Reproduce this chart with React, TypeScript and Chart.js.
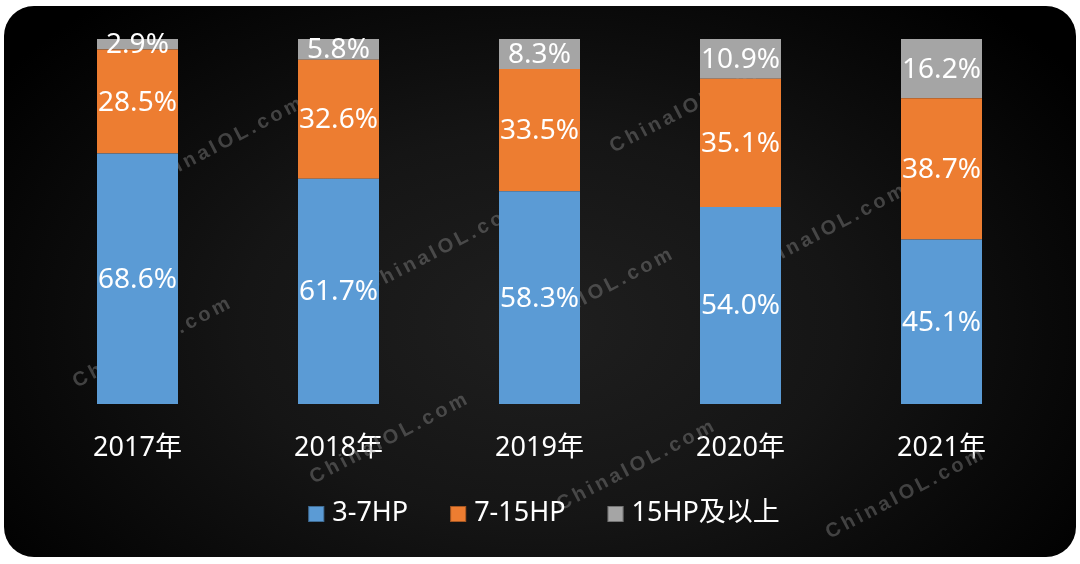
import { useEffect, useRef } from "react";
import { Chart, ChartConfiguration, Plugin, registerables } from "chart.js";

Chart.register(...registerables);

const years = ["2017年", "2018年", "2019年", "2020年", "2021年"];
const seriesNames = ["3-7HP", "7-15HP", "15HP及以上"];
const small = [68.6, 61.7, 58.3, 54.0, 45.1];
const medium = [28.5, 32.6, 33.5, 35.1, 38.7];
const large = [2.9, 5.8, 8.3, 10.9, 16.2];
const colors = ["#5b9bd5", "#ed7d31", "#a5a5a5"];

const FONT = '"Noto Sans", "Noto Sans CJK SC", sans-serif';

// faint site watermark, drawn under the bars
const watermarkSpots = [
  [225, 142], [690, 107], [153, 342], [445, 247], [595, 293],
  [828, 229], [390, 438], [637, 465], [906, 493],
];

const watermark: Plugin<"bar"> = {
  id: "watermark",
  beforeDatasetsDraw(chart) {
    const ctx = chart.ctx;
    ctx.save();
    ctx.font = "bold 20px 'Liberation Sans', Arial, sans-serif";
    (ctx as any).letterSpacing = "3.5px";
    ctx.fillStyle = "rgba(140,140,140,0.42)";
    ctx.textAlign = "center";
    ctx.textBaseline = "middle";
    watermarkSpots.forEach(([x, y]) => {
      ctx.save();
      ctx.translate(x, y);
      ctx.rotate((-27.5 * Math.PI) / 180);
      ctx.fillText("ChinaIOL.com", 0, 0);
      ctx.restore();
    });
    ctx.restore();
  },
};

const segmentLabels: Plugin<"bar"> = {
  id: "segmentLabels",
  afterDatasetsDraw(chart) {
    const ctx = chart.ctx;
    ctx.save();
    ctx.font = `28px ${FONT}`;
    ctx.fillStyle = "#ffffff";
    ctx.textAlign = "center";
    ctx.textBaseline = "middle";
    chart.data.datasets.forEach((ds, i) => {
      const meta = chart.getDatasetMeta(i);
      meta.data.forEach((el: any, j) => {
        const v = ds.data[j] as number;
        const yMid = (el.y + el.base) / 2;
        ctx.fillText(`${v.toFixed(1)}%`, el.x, yMid + 1);
      });
    });
    ctx.restore();
  },
};

// legend drawn by hand so its spacing can follow the original
const bottomLegend: Plugin<"bar"> = {
  id: "bottomLegend",
  afterDraw(chart) {
    const ctx = chart.ctx;
    const box = 16;
    const gap = 8;
    const spacing = 42;
    const centerX = 544;
    const centerY = 514;
    ctx.save();
    ctx.font = `27px ${FONT}`;
    ctx.textBaseline = "middle";
    ctx.textAlign = "left";
    const items = chart.data.datasets.map((ds) => ({
      text: ds.label as string,
      color: ds.backgroundColor as string,
      w: box + gap + ctx.measureText(ds.label as string).width,
    }));
    const total = items.reduce((s, it) => s + it.w, 0) + spacing * (items.length - 1);
    let x = centerX - total / 2;
    items.forEach((it) => {
      ctx.fillStyle = it.color;
      ctx.fillRect(x, centerY - box / 2, box, box);
      ctx.strokeStyle = "rgba(0,0,0,0.3)";
      ctx.lineWidth = 1;
      ctx.strokeRect(x + 0.5, centerY - box / 2 + 0.5, box - 1, box - 1);
      ctx.fillStyle = "#ffffff";
      ctx.fillText(it.text, x + box + gap, centerY - 1);
      x += it.w + spacing;
    });
    ctx.restore();
  },
};

export default function App() {
  const canvasRef = useRef<HTMLCanvasElement>(null);
  const chartRef = useRef<Chart<"bar"> | null>(null);

  useEffect(() => {
    if (!canvasRef.current) return;
    if (chartRef.current) chartRef.current.destroy();

    const config: ChartConfiguration<"bar"> = {
      type: "bar",
      data: {
        labels: years,
        datasets: [small, medium, large].map((values, i) => ({
          label: seriesNames[i],
          data: values,
          backgroundColor: colors[i],
          borderWidth: 0,
          categoryPercentage: 1,
          barPercentage: 0.403,
        })),
      },
      options: {
        animation: false,
        responsive: true,
        maintainAspectRatio: false,
        events: [],
        layout: { padding: { top: 39, left: 37, right: 38, bottom: 100 } },
        plugins: {
          tooltip: { enabled: false },
          legend: { display: false },
        },
        scales: {
          x: {
            stacked: true,
            grid: { display: false },
            border: { display: false },
            ticks: {
              color: "#ffffff",
              font: { family: FONT, size: 27 },
              padding: 20,
            },
            afterFit(scale) {
              scale.height = 60;
            },
          },
          y: {
            stacked: true,
            display: false,
            min: 0,
            max: 100,
          },
        },
      },
      plugins: [watermark, segmentLabels, bottomLegend],
    };

    chartRef.current = new Chart(canvasRef.current, config);

    return () => {
      if (chartRef.current) {
        chartRef.current.destroy();
        chartRef.current = null;
      }
    };
  }, []);

  return (
    <div
      style={{
        position: "absolute",
        top: 0,
        left: 0,
        width: 1080,
        height: 564,
        background: "#ffffff",
        overflow: "hidden",
      }}
    >
      <div
        style={{
          position: "absolute",
          left: 4,
          top: 6,
          width: 1072,
          height: 551,
          borderRadius: 30,
          background:
            "radial-gradient(ellipse 62% 78% at 50% 58%, #1f1f1f 0%, #151515 45%, #000000 100%)",
        }}
      />
      <div style={{ position: "absolute", left: 0, top: 0, width: 1080, height: 564 }}>
        <canvas ref={canvasRef} />
      </div>
    </div>
  );
}
